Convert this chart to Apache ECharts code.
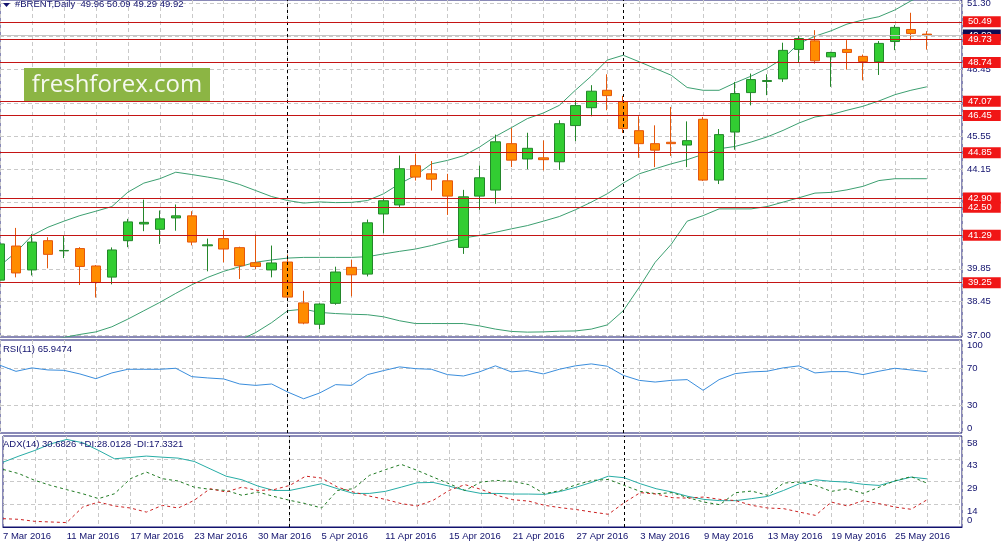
<!DOCTYPE html>
<html>
<head>
<meta charset="utf-8">
<title>#BRENT Daily</title>
<script src="https://cdn.jsdelivr.net/npm/echarts@6.0.0/dist/echarts.min.js"></script>
<style>
    html, body { margin: 0; padding: 0; background: #ffffff; }
    #chart { width: 1003px; height: 547px; }
</style>
</head>
<body>
<div id="chart"></div>
<script>
// 交易日
var dates = [
    '7 Mar 2016', '8 Mar 2016', '9 Mar 2016', '10 Mar 2016', '11 Mar 2016',
    '14 Mar 2016', '15 Mar 2016', '16 Mar 2016', '17 Mar 2016', '18 Mar 2016',
    '21 Mar 2016', '22 Mar 2016', '23 Mar 2016', '24 Mar 2016', '28 Mar 2016',
    '29 Mar 2016', '30 Mar 2016', '31 Mar 2016', '1 Apr 2016', '4 Apr 2016',
    '5 Apr 2016', '6 Apr 2016', '7 Apr 2016', '8 Apr 2016', '11 Apr 2016',
    '12 Apr 2016', '13 Apr 2016', '14 Apr 2016', '15 Apr 2016', '18 Apr 2016',
    '19 Apr 2016', '20 Apr 2016', '21 Apr 2016', '22 Apr 2016', '25 Apr 2016',
    '26 Apr 2016', '27 Apr 2016', '28 Apr 2016', '29 Apr 2016', '2 May 2016',
    '3 May 2016', '4 May 2016', '5 May 2016', '6 May 2016', '9 May 2016',
    '10 May 2016', '11 May 2016', '12 May 2016', '13 May 2016', '16 May 2016',
    '17 May 2016', '18 May 2016', '19 May 2016', '20 May 2016', '23 May 2016',
    '24 May 2016', '25 May 2016', '26 May 2016', '27 May 2016'
];

// K线 开 高 低 收
var opens = [39.36, 40.83, 39.80, 41.06, 40.62, 40.72, 39.97, 39.49, 41.06, 41.78,
    41.55, 42.04, 42.13, 40.84, 41.15, 40.76, 40.11, 39.80, 40.14, 38.38,
    37.46, 38.36, 39.91, 39.62, 42.21, 42.60, 44.29, 43.94, 43.64, 40.77,
    42.98, 43.24, 45.24, 44.58, 44.63, 44.46, 46.02, 46.79, 47.54, 47.05,
    45.80, 45.24, 45.30, 45.18, 46.29, 43.67, 45.74, 47.44, 47.92, 48.03,
    49.30, 49.67, 48.98, 49.30, 49.00, 48.77, 49.64, 50.16, 49.96];
var highs = [41.12, 41.61, 41.35, 41.21, 41.26, 40.78, 40.01, 40.77, 42.00, 42.83,
    42.36, 42.62, 42.33, 41.15, 41.52, 40.80, 41.32, 40.85, 40.46, 38.90,
    38.36, 39.94, 40.23, 41.97, 42.91, 44.73, 44.81, 44.49, 43.94, 43.25,
    44.30, 45.63, 45.91, 45.71, 45.38, 46.25, 47.11, 47.76, 48.23, 47.30,
    46.42, 46.03, 46.82, 46.20, 46.39, 45.87, 47.90, 48.26, 48.23, 49.59,
    49.92, 50.13, 49.20, 49.70, 49.08, 49.66, 50.35, 50.88, 50.09];
var lows = [39.25, 39.48, 39.56, 39.87, 40.31, 39.15, 38.61, 39.18, 40.78, 41.47,
    40.92, 41.49, 40.86, 39.74, 40.13, 39.41, 39.84, 39.48, 38.60, 37.46,
    37.25, 38.30, 38.66, 39.52, 41.38, 42.50, 43.65, 43.22, 42.17, 40.49,
    42.39, 42.65, 44.23, 44.14, 44.09, 44.11, 45.35, 46.42, 46.68, 45.70,
    44.63, 44.23, 44.71, 44.23, 43.63, 43.50, 44.98, 46.89, 47.33, 47.90,
    48.75, 48.69, 47.69, 48.43, 47.97, 48.20, 49.27, 49.70, 49.29];
var closes = [40.92, 39.67, 41.00, 40.47, 40.64, 39.95, 39.26, 40.66, 41.87, 41.85,
    42.00, 42.13, 41.00, 40.88, 40.70, 39.98, 39.95, 40.10, 38.63, 37.51,
    38.33, 39.71, 39.59, 41.83, 42.78, 44.16, 43.80, 43.71, 42.98, 42.95,
    43.77, 45.32, 44.53, 45.04, 44.55, 46.10, 46.88, 47.50, 47.31, 45.89,
    45.24, 44.96, 45.24, 45.37, 43.67, 45.63, 47.40, 48.00, 47.96, 49.26,
    49.77, 48.81, 49.17, 49.17, 48.78, 49.56, 50.25, 49.99, 49.92];

// 布林带 上轨 中轨 下轨
var bbUpper = [39.98, 40.56, 41.28, 41.64, 41.90, 42.14, 42.33, 42.53, 43.15, 43.54,
    43.73, 44.01, 43.91, 43.80, 43.68, 43.48, 43.22, 42.96, 42.79, 42.68,
    42.73, 42.70, 42.71, 42.79, 43.08, 43.51, 43.87, 44.37, 44.52, 44.72,
    45.09, 45.55, 45.93, 46.32, 46.56, 46.89, 47.54, 48.15, 48.84, 49.05,
    48.77, 48.48, 48.19, 47.66, 47.54, 47.54, 47.86, 48.15, 48.48, 48.91,
    49.56, 49.87, 50.10, 50.39, 50.57, 50.71, 51.00, 51.39, 51.72];
var bbMiddle = [36.31, 36.46, 36.60, 36.74, 36.89, 37.02, 37.13, 37.35, 37.68, 38.04,
    38.40, 38.79, 39.16, 39.48, 39.74, 39.94, 40.13, 40.23, 40.31, 40.34,
    40.34, 40.34, 40.34, 40.37, 40.49, 40.60, 40.70, 40.85, 41.03, 41.18,
    41.28, 41.42, 41.57, 41.71, 41.90, 42.10, 42.39, 42.72, 43.08, 43.54,
    43.94, 44.16, 44.37, 44.55, 44.78, 45.02, 45.12, 45.31, 45.53, 45.81,
    46.13, 46.39, 46.49, 46.68, 46.85, 47.08, 47.35, 47.54, 47.69];
var bbLower = [32.71, 32.86, 33.00, 33.14, 33.29, 33.43, 33.58, 33.86, 34.15, 34.44,
    34.73, 35.16, 35.59, 36.02, 36.46, 36.77, 37.10, 37.53, 38.04, 38.11,
    37.97, 37.92, 37.89, 37.87, 37.78, 37.61, 37.49, 37.49, 37.49, 37.49,
    37.39, 37.25, 37.15, 37.12, 37.13, 37.16, 37.17, 37.25, 37.43, 38.04,
    39.05, 40.13, 40.90, 41.90, 42.14, 42.43, 42.43, 42.43, 42.53, 42.72,
    42.91, 43.11, 43.14, 43.25, 43.40, 43.65, 43.73, 43.73, 43.73];

// RSI(11)
var rsi = [72.8, 66.3, 70.0, 67.8, 67.4, 63.5, 58.4, 64.6, 68.5, 68.5,
    68.5, 69.6, 60.6, 59.2, 58.1, 52.7, 51.2, 52.7, 44.1, 36.8,
    43.0, 52.0, 51.2, 62.8, 67.1, 71.1, 69.2, 68.5, 62.8, 61.3,
    65.7, 72.2, 65.7, 67.1, 63.5, 68.5, 72.2, 74.3, 71.8, 62.0,
    56.6, 54.8, 56.6, 57.4, 45.9, 57.4, 63.8, 65.7, 66.4, 70.0,
    72.2, 64.6, 66.0, 66.0, 62.8, 66.4, 69.6, 67.8, 65.9];

// ADX(14) 主线 +DI -DI
var adx = [41.3, 45.2, 48.8, 53.0, 55.8, 53.7, 48.8, 43.5, 44.3, 45.2,
    44.5, 43.9, 41.8, 37.1, 32.4, 30.1, 26.1, 23.3, 23.3, 25.4,
    27.6, 24.4, 21.4, 21.4, 22.7, 25.4, 28.2, 28.4, 26.1, 23.3,
    21.4, 21.4, 21.0, 21.0, 20.8, 22.7, 25.4, 28.6, 32.4, 31.4,
    27.6, 24.4, 22.3, 19.5, 17.6, 16.8, 16.8, 18.1, 19.5, 23.3,
    27.6, 30.1, 29.1, 28.6, 27.2, 26.5, 29.3, 31.8, 30.7];
var plusDi = [36.7, 34.0, 29.7, 26.5, 23.8, 21.2, 18.1, 21.2, 30.8, 35.0,
    30.8, 29.3, 25.4, 24.0, 23.3, 20.2, 22.3, 19.5, 17.0, 14.9,
    12.1, 23.3, 24.4, 32.9, 36.5, 39.9, 36.1, 31.8, 27.6, 23.3,
    28.6, 29.7, 29.1, 27.0, 21.2, 23.3, 27.0, 29.7, 30.3, 26.5,
    22.7, 21.2, 21.9, 18.7, 15.9, 14.2, 21.9, 22.9, 20.2, 28.0,
    28.6, 26.5, 22.7, 24.4, 21.4, 25.4, 29.5, 32.1, 28.0];
var minusDi = [5.3, 4.9, 3.6, 3.2, 2.8, 12.7, 15.9, 13.4, 12.1, 9.5,
    13.8, 12.1, 17.0, 24.4, 22.3, 25.4, 23.3, 23.8, 26.5, 32.4,
    31.2, 25.4, 22.3, 19.7, 17.6, 14.9, 13.4, 17.0, 23.3, 27.0,
    24.0, 20.2, 17.4, 16.5, 13.8, 12.3, 11.1, 9.5, 8.1, 15.5,
    21.9, 21.0, 18.7, 18.4, 19.1, 17.6, 16.8, 13.8, 12.1, 11.7,
    9.5, 7.4, 15.9, 13.4, 16.8, 14.9, 12.7, 11.3, 17.3];

// 价格刻度、水平位、月分隔线
var priceTicks = [37.00, 38.45, 39.85, 41.30, 42.70, 44.15, 45.55, 47.00, 48.45, 49.85, 51.30];
var levels = [50.49, 49.73, 48.74, 47.07, 46.45, 44.85, 42.90, 42.50, 41.29, 39.25];
var rsiTicks = [0, 30, 70, 100];
var rsiLevels = [30, 70];
var adxTicks = [0, 14.5, 29, 43.5, 58];
var separators = [18, 39];

(function () {
    var 字体 = 'Liberation Sans';
    var 字号 = 9.5;
    var 深蓝 = '#12126e';
    var 网格灰 = '#c9c9c9';
    var 布林色 = '#3c9f70';

    // ADX 窗口高 91px，刻度文字往下挪 7px（MT4 画在刻度线下方）
    var adx像素 = 58 / 91;
    var adx文字下移 = 7 * adx像素;

    // 组合成 [序号, 值]
    function pairs(arr) {
        return arr.map(function (v, i) { return [i, v]; });
    }

    var kData = opens.map(function (o, i) {
        return [i, o, closes[i], lows[i], highs[i]];
    });

    var last = dates.length - 1;
    var header = '#BRENT,Daily  ' + opens[last].toFixed(2) + ' ' + highs[last].toFixed(2) + ' ' +
        lows[last].toFixed(2) + ' ' + closes[last].toFixed(2);

    // 三个窗口共用的 x 轴
    function makeXAxis(gridIndex, showLabel) {
        return {
            type: 'value',
            gridIndex: gridIndex,
            min: 0,
            max: 60.2,
            interval: 2,
            axisLine: { show: showLabel, lineStyle: { color: 深蓝 } },
            axisTick: { show: false },
            splitLine: { show: true, lineStyle: { color: 网格灰, type: [4, 3] } },
            axisLabel: {
                show: showLabel,
                align: 'left',
                margin: 4,
                color: 深蓝,
                fontFamily: 字体,
                fontSize: 字号,
                formatter: function (v) {
                    return (v % 4 === 0 && v <= last) ? dates[v] : '';
                }
            }
        };
    }

    function vSeparators() {
        return separators.map(function (i) {
            return { xAxis: i, lineStyle: { color: '#000000', type: [3, 3], width: 1 } };
        });
    }

    function priceLabel(p) {
        return Number(p.value).toFixed(2);
    }

    var gridBorder = { show: true, borderColor: 深蓝, borderWidth: 1, backgroundColor: '#ffffff' };

    var option = {
        animation: false,
        backgroundColor: '#ffffff',
        grid: [
            Object.assign({ left: -1, top: 0, width: 963, height: 337 }, gridBorder),
            Object.assign({ left: -1, top: 340, width: 963, height: 93 }, gridBorder),
            Object.assign({ left: -1, top: 436, width: 963, height: 91 }, gridBorder)
        ],
        xAxis: [makeXAxis(0, false), makeXAxis(1, false), makeXAxis(2, true)],
        yAxis: [
            {
                type: 'value', gridIndex: 0, position: 'right',
                min: 36.91, max: 51.43,
                axisLine: { show: false }, axisTick: { show: false },
                axisLabel: { show: false }, splitLine: { show: false }
            },
            {
                type: 'value', gridIndex: 1, position: 'right',
                min: 0, max: 100, interval: 10,
                axisLine: { show: false }, axisTick: { show: false },
                splitLine: { show: false },
                axisLabel: {
                    color: 深蓝, fontFamily: 字体, fontSize: 字号, margin: 5,
                    showMinLabel: true, showMaxLabel: true,
                    verticalAlignMinLabel: 'bottom', verticalAlignMaxLabel: 'top',
                    formatter: function (v) { return rsiTicks.indexOf(v) >= 0 ? String(v) : ''; }
                }
            },
            {
                type: 'value', gridIndex: 2, position: 'right',
                min: 0, max: 58, interval: 14.5,
                axisLine: { show: false }, axisTick: { show: false },
                axisLabel: { show: false },
                splitLine: { show: true, showMinLine: false, showMaxLine: false, lineStyle: { color: 网格灰, type: [4, 3] } }
            }
        ],
        series: [
            // 布林带中轨 + 价格网格线与刻度
            {
                type: 'line', xAxisIndex: 0, yAxisIndex: 0,
                data: pairs(bbMiddle), showSymbol: false, silent: true,
                lineStyle: { color: 布林色, width: 1 },
                markLine: {
                    z: 1, silent: true, symbol: ['none', 'none'],
                    lineStyle: { color: 网格灰, type: [4, 3], width: 1 },
                    label: {
                        position: 'end', distance: 5, color: 深蓝,
                        fontFamily: 字体, fontSize: 字号, formatter: priceLabel
                    },
                    data: priceTicks.map(function (v) { return { yAxis: v }; })
                }
            },
            // 布林带上轨 + 月分隔线
            {
                type: 'line', xAxisIndex: 0, yAxisIndex: 0,
                data: pairs(bbUpper), showSymbol: false, silent: true,
                lineStyle: { color: 布林色, width: 1 },
                markLine: {
                    z: 6, silent: true, symbol: ['none', 'none'],
                    label: { show: false },
                    data: vSeparators()
                }
            },
            // 布林带下轨 + 当前价
            {
                type: 'line', xAxisIndex: 0, yAxisIndex: 0,
                data: pairs(bbLower), showSymbol: false, silent: true,
                lineStyle: { color: 布林色, width: 1 },
                markLine: {
                    z: 5, silent: true, symbol: ['none', 'none'],
                    lineStyle: { color: '#c4c4c4', type: 'solid', width: 1 },
                    label: {
                        position: 'end', distance: 1, color: '#ffffff',
                        backgroundColor: '#0b0b52', padding: [1, 9, 0, 5],
                        fontFamily: 字体, fontSize: 字号, formatter: priceLabel
                    },
                    data: [{ yAxis: closes[last] }]
                }
            },
            // K线 + 红色水平位
            {
                type: 'candlestick', xAxisIndex: 0, yAxisIndex: 0,
                data: kData, barWidth: 10, z: 3, silent: true,
                itemStyle: {
                    color: '#32cd32', color0: '#ff8c00',
                    borderColor: '#23862a', borderColor0: '#e4560c', borderWidth: 1
                },
                markLine: {
                    z: 7, silent: true, symbol: ['none', 'none'],
                    lineStyle: { color: '#c41414', type: 'solid', width: 1 },
                    label: {
                        position: 'end', distance: 1, color: '#ffffff',
                        backgroundColor: '#f01616', padding: [1, 9, 0, 5],
                        fontFamily: 字体, fontSize: 字号, formatter: priceLabel
                    },
                    data: levels.map(function (v) { return { yAxis: v }; })
                }
            },
            // RSI
            {
                type: 'line', xAxisIndex: 1, yAxisIndex: 1,
                data: pairs(rsi), showSymbol: false, silent: true,
                lineStyle: { color: '#3a8ddc', width: 1 },
                markLine: {
                    z: 1, silent: true, symbol: ['none', 'none'],
                    label: { show: false },
                    data: rsiLevels.map(function (v) {
                        return { yAxis: v, lineStyle: { color: 网格灰, type: [4, 3], width: 1 } };
                    }).concat(vSeparators())
                }
            },
            // ADX
            {
                type: 'line', xAxisIndex: 2, yAxisIndex: 2,
                data: pairs(adx), showSymbol: false, silent: true,
                lineStyle: { color: '#27ada6', width: 1 },
                markLine: {
                    z: 1, silent: true, symbol: ['none', 'none'],
                    label: { show: false },
                    data: vSeparators()
                }
            },
            // +DI，顺带画 ADX 窗口刻度文字
            {
                type: 'line', xAxisIndex: 2, yAxisIndex: 2,
                data: pairs(plusDi), showSymbol: false, silent: true,
                lineStyle: { color: '#1f7a22', width: 1, type: [3, 3] },
                markLine: {
                    z: 1, silent: true, symbol: ['none', 'none'],
                    lineStyle: { color: 'rgba(255,255,255,0)', width: 1, type: 'solid' },
                    label: {
                        show: true, position: 'end', distance: 5,
                        color: 深蓝, fontFamily: 字体, fontSize: 字号,
                        formatter: '{b}'
                    },
                    data: adxTicks.map(function (v, i) {
                        return {
                            name: String(Math.floor(v)),
                            yAxis: i === 0 ? v + adx文字下移 : v - adx文字下移
                        };
                    })
                }
            },
            {
                type: 'line', xAxisIndex: 2, yAxisIndex: 2,
                data: pairs(minusDi), showSymbol: false, silent: true,
                lineStyle: { color: '#cc2222', width: 1, type: [3, 3] }
            }
        ],
        graphic: [
            // 标题
            { type: 'polygon', z: 20, shape: { points: [[3, 3], [10, 3], [6.5, 7]] }, style: { fill: 深蓝 } },
            {
                type: 'text', z: 20, x: 15, y: 4,
                style: { text: header, fill: 深蓝, font: 字号 + 'px "' + 字体 + '"', textVerticalAlign: 'middle' }
            },
            {
                type: 'text', z: 20, x: 3, y: 349,
                style: { text: 'RSI(11) 65.9474', fill: 深蓝, font: 字号 + 'px "' + 字体 + '"', textVerticalAlign: 'middle' }
            },
            {
                type: 'text', z: 20, x: 3, y: 444,
                style: { text: 'ADX(14) 30.6826 +DI:28.0128 -DI:17.3321', fill: 深蓝, font: 字号 + 'px "' + 字体 + '"', textVerticalAlign: 'middle' }
            },
            // 水印
            { type: 'rect', z: 20, shape: { x: 24, y: 68, width: 186, height: 33 }, style: { fill: '#8cb544' } },
            {
                type: 'text', z: 21, x: 117, y: 85,
                style: {
                    text: 'freshforex.com', fill: '#f6f9f0', font: '24px "Open Sans"',
                    textAlign: 'center', textVerticalAlign: 'middle'
                }
            }
        ]
    };

    var myechart = echarts.init(document.getElementById('chart'));
    myechart.setOption(option);

    window.addEventListener('resize', function () {
        myechart.resize();
    });
})();
</script>
</body>
</html>
